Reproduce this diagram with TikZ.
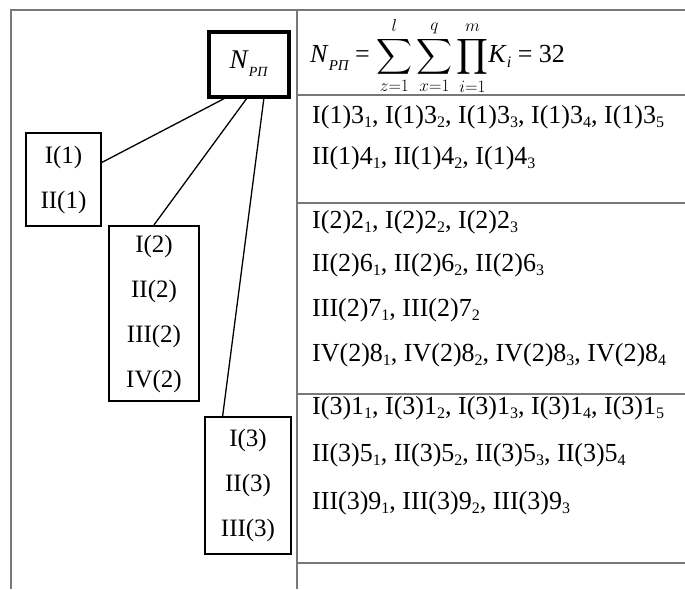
\documentclass[tikz,border=0pt]{standalone}
\usepackage{amsmath}
\usepackage{fontspec}
\setmainfont{Liberation Serif}
\usetikzlibrary{positioning}
\definecolor{rulegray}{RGB}{120,120,120}
\newcommand{\lowidx}[1]{\raisebox{-0.35ex}{\fontsize{16}{16}\selectfont #1}}
\tikzset{
 rootbox/.style={
 rectangle,
 draw=black,
 line width=4pt,
 inner sep=0pt,
 minimum width=80pt,
 minimum height=65pt,
 font=\fontsize{27}{30}\selectfont
 },
 branchbox/.style={
 rectangle,
 draw=black,
 line width=2.2pt,
 align=center,
 inner sep=0pt,
 font=\fontsize{25}{45}\selectfont
 },
 cellrow/.style={anchor=west, inner sep=0pt, font=\fontsize{26}{30}\selectfont},
 tabrule/.style={draw=rulegray, line width=1.6pt},
 link/.style={draw=black, line width=1.3pt}
}

\begin{document}
\begin{tikzpicture}[x=1pt, y=-1pt]
 \useasboundingbox (0,0) rectangle (685,589);

 % table frame
 \coordinate (tl) at (11,10);
 \coordinate (tr) at (685,10);
 \coordinate (bl) at (11,589);
 \coordinate (mt) at (297,10);
 \coordinate (mb) at (297,589);
 \draw[tabrule] (tr) -- (tl) -- (bl);
 \draw[tabrule] (mt) -- (mb);
 \foreach \y/\n in {95/a, 203/b, 394/c, 563/d} {
 \coordinate (h\n l) at (297,\y);
 \coordinate (h\n r) at (685,\y);
 \draw[tabrule] (h\n l) -- (h\n r);
 }

 % tree
 \node[rootbox] (npp) at (248.5,64) {\textit{N}\raisebox{-0.3em}{\fontsize{14}{14}\selectfont\itshape РП}};
 \node[branchbox, minimum width=75pt, minimum height=93pt] (b1) at (63.5,179.5) {I(1)\\II(1)};
 \node[branchbox, minimum width=90pt, minimum height=175pt] (b2) at (154,313.5) {I(2)\\II(2)\\III(2)\\IV(2)};
 \node[branchbox, minimum width=86pt, minimum height=137pt] (b3) at (248,485.5) {I(3)\\II(3)\\III(3)};

 \draw[link] (npp.235) -- (b1.24);
 \draw[link] (npp.267) -- (b2.north);
 \draw[link] (npp.294) -- (b3.110);

 % formula
 \node[cellrow] (sum) at (310,56) {\textit{N}\raisebox{-0.3em}{\fontsize{15}{15}\selectfont\itshape РП} = $\displaystyle\sum_{z=1}^{l}\sum_{x=1}^{q}\prod_{i=1}^{m}$\textit{K}\lowidx{\textit{i}} = 32};

 % cells
 \node[cellrow] (r11) at (312,117) {I(1)3\lowidx{1}, I(1)3\lowidx{2}, I(1)3\lowidx{3}, I(1)3\lowidx{4}, I(1)3\lowidx{5}};
 \node[cellrow] (r12) at (312,158) {II(1)4\lowidx{1}, II(1)4\lowidx{2}, I(1)4\lowidx{3}};
 \node[cellrow] (r21) at (312,222) {I(2)2\lowidx{1}, I(2)2\lowidx{2}, I(2)2\lowidx{3}};
 \node[cellrow] (r22) at (312,265) {II(2)6\lowidx{1}, II(2)6\lowidx{2}, II(2)6\lowidx{3}};
 \node[cellrow] (r23) at (312,310) {III(2)7\lowidx{1}, III(2)7\lowidx{2}};
 \node[cellrow] (r24) at (312,355) {IV(2)8\lowidx{1}, IV(2)8\lowidx{2}, IV(2)8\lowidx{3}, IV(2)8\lowidx{4}};
 \node[cellrow] (r31) at (312,408) {I(3)1\lowidx{1}, I(3)1\lowidx{2}, I(3)1\lowidx{3}, I(3)1\lowidx{4}, I(3)1\lowidx{5}};
 \node[cellrow] (r32) at (312,455) {II(3)5\lowidx{1}, II(3)5\lowidx{2}, II(3)5\lowidx{3}, II(3)5\lowidx{4}};
 \node[cellrow] (r33) at (312,503) {III(3)9\lowidx{1}, III(3)9\lowidx{2}, III(3)9\lowidx{3}};
\end{tikzpicture}
\end{document}
